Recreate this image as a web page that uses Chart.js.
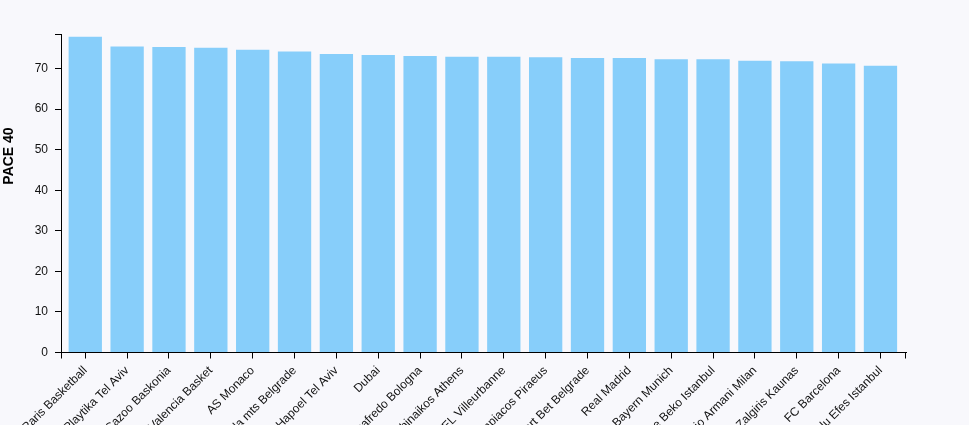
<!DOCTYPE html>
<html>
<head>
<meta charset="utf-8">
<script src="https://cdn.jsdelivr.net/npm/chart.js@4.4.1/dist/chart.umd.min.js"></script>
<style>
    body { margin: 0; background: #f8f8fc; }
    canvas { display: block; }
</style>
</head>
<body>
<canvas id="paceChart" width="969" height="425"></canvas>
<script>
// Data
const teams = [
    "Paris Basketball", "Maccabi Playtika Tel Aviv", "Cazoo Baskonia", "Valencia Basket",
    "AS Monaco", "Crvena Zvezda mts Belgrade", "Hapoel Tel Aviv", "Dubai",
    "Virtus Segafredo Bologna", "Panathinaikos Athens", "LDLC ASVEL Villeurbanne", "Olympiacos Piraeus",
    "Partizan Mozzart Bet Belgrade", "Real Madrid", "FC Bayern Munich", "Fenerbahce Beko Istanbul",
    "EA7 Emporio Armani Milan", "Zalgiris Kaunas", "FC Barcelona", "Anadolu Efes Istanbul"
];
const pace40 = [
    77.8, 75.4, 75.3, 75.1, 74.6, 74.2, 73.6, 73.3, 73.1, 72.9,
    72.9, 72.8, 72.6, 72.6, 72.3, 72.3, 71.9, 71.8, 71.2, 70.7
];
const yTicks = [0, 10, 20, 30, 40, 50, 60, 70];
const yMax = 78.5;
const yTitle = "PACE 40";

window.addEventListener("DOMContentLoaded", () => {

    // Background fill
    const background = {
        id: "background",
        beforeDraw(chart) {
            const ctx = chart.ctx;
            ctx.save();
            ctx.fillStyle = "#f8f8fc";
            ctx.fillRect(0, 0, chart.width, chart.height);
            ctx.restore();
        }
    };

    // Outer ticks at axis ends + y title
    const axisExtras = {
        id: "axisExtras",
        afterDraw(chart) {
            const ctx = chart.ctx;
            const x = chart.scales.x, y = chart.scales.y;
            ctx.save();
            ctx.strokeStyle = "#000";
            ctx.lineWidth = 1;
            ctx.beginPath();
            ctx.moveTo(Math.round(x.left) + 0.5, x.top);
            ctx.lineTo(Math.round(x.left) + 0.5, x.top + 6);
            ctx.moveTo(Math.round(x.right) - 0.5, x.top);
            ctx.lineTo(Math.round(x.right) - 0.5, x.top + 6);
            ctx.moveTo(y.right - 6, Math.round(y.top) + 0.5);
            ctx.lineTo(y.right, Math.round(y.top) + 0.5);
            ctx.stroke();

            ctx.translate(13, 156);
            ctx.rotate(-Math.PI / 2);
            ctx.fillStyle = "#000";
            ctx.font = "bold 14px 'Liberation Sans', Arial, sans-serif";
            ctx.textAlign = "center";
            ctx.textBaseline = "alphabetic";
            ctx.fillText(yTitle, 0, 0);
            ctx.restore();
        }
    };

    const tickFont = { family: "'Liberation Sans', Arial, sans-serif", size: 12 };

    new Chart(document.getElementById("paceChart"), {
        type: "bar",
        data: {
            labels: teams,
            datasets: [{
                label: yTitle,
                data: pace40,
                backgroundColor: "#87cefa",
                borderWidth: 0,
                categoryPercentage: 1,
                barPercentage: 0.796
            }]
        },
        options: {
            responsive: false,
            animation: false,
            devicePixelRatio: 1,
            layout: { padding: { top: 34, right: 63, left: 0, bottom: 0 } },
            plugins: { legend: { display: false }, tooltip: { enabled: false } },
            scales: {
                x: {
                    offset: true,
                    grid: { display: true, drawOnChartArea: false, drawTicks: true, tickLength: 6, color: "#000", offset: false },
                    border: { display: true, color: "#000", width: 1 },
                    ticks: { autoSkip: false, maxRotation: 45, minRotation: 45, color: "#111", font: tickFont, padding: 5 },
                    afterBuildTicks(scale) {
                        // band-style outer padding instead of half a category
                        scale._startValue = -0.58;
                        scale._valueRange = teams.length + 0.19;
                    },
                    afterFit(scale) {
                        scale.height = 72.5;
                        scale.paddingLeft = 0;
                        scale.paddingRight = 0;
                    }
                },
                y: {
                    min: 0,
                    max: yMax,
                    grid: { display: true, drawOnChartArea: false, drawTicks: true, tickLength: 6, color: "#000" },
                    border: { display: true, color: "#000", width: 1 },
                    ticks: { color: "#111", font: tickFont, padding: 7 },
                    afterBuildTicks(scale) {
                        scale.ticks = yTicks.map(v => ({ value: v }));
                    },
                    afterFit(scale) {
                        scale.width = 61;
                        scale.paddingTop = 0;
                        scale.paddingBottom = 0;
                    }
                }
            }
        },
        plugins: [background, axisExtras]
    });
});
</script>
</body>
</html>
